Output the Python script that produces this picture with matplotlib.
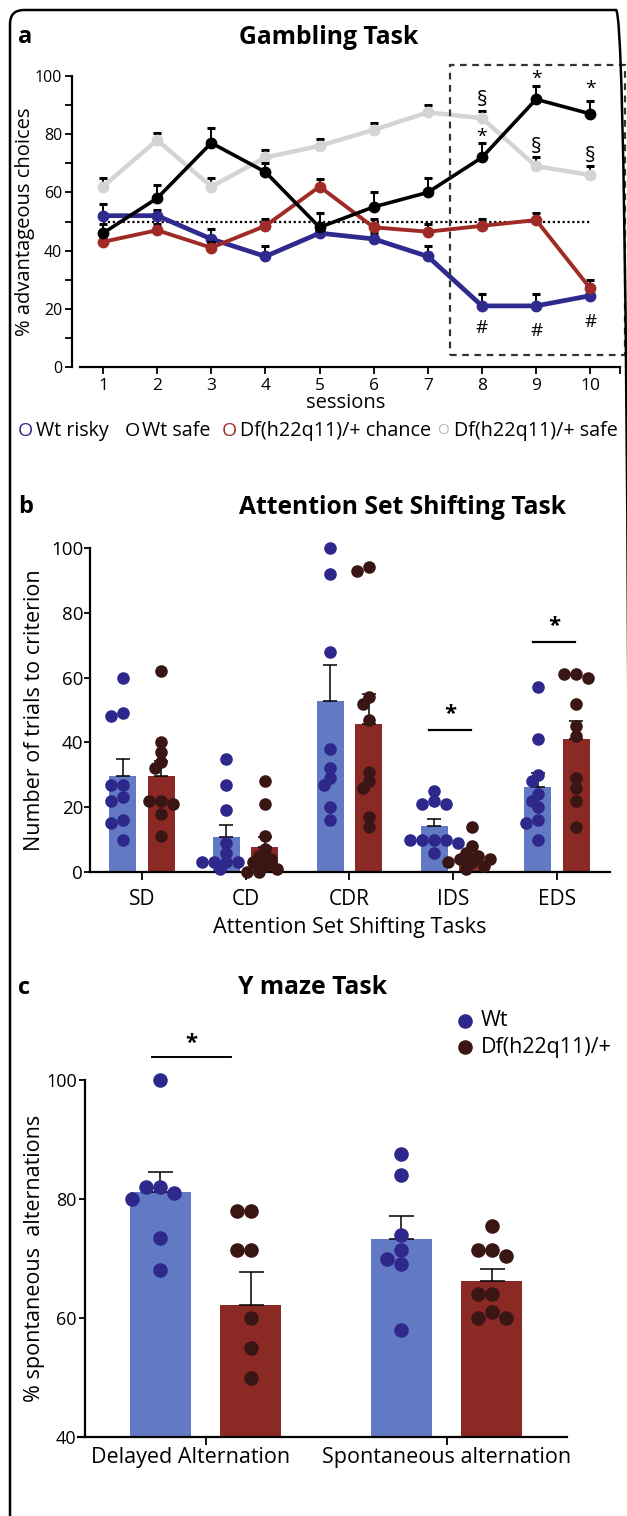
import numpy as np
import matplotlib
matplotlib.use("Agg")
import matplotlib.pyplot as plt
import matplotlib.transforms as mtrans
from matplotlib.patches import FancyBboxPatch, Rectangle

plt.rcParams['font.family'] = ['Open Sans', 'DejaVu Sans']

# ---------------- data ----------------
sessions = [1, 2, 3, 4, 5, 6, 7, 8, 9, 10]
wt_risky = [52, 52, 44, 38, 46, 44, 38, 21, 21, 24.5]
wt_risky_err = [4, 2, 3.5, 3.5, 2, 2, 3.5, 4, 4, 2]
wt_safe = [46, 58, 77, 67, 48, 55, 60, 72, 92, 87]
wt_safe_err = [3, 4.5, 5, 3, 5, 5, 5, 5, 4.5, 4.5]
df_chance = [43, 47, 41, 48.5, 62, 48, 46.5, 48.5, 50.5, 27]
df_chance_err = [2, 2, 2, 2.5, 2.5, 3, 2.5, 2.5, 2.5, 3]
df_safe = [62, 78, 62, 72, 76, 81.5, 87.5, 85.5, 69, 66]
df_safe_err = [3, 2.5, 3, 2.5, 2.5, 2.5, 2.5, 2.5, 3, 3]

ast_tasks = ['SD', 'CD', 'CDR', 'IDS', 'EDS']
ast_wt_mean = [29.5, 10.7, 52.8, 14.3, 26.1]
ast_wt_err = [5.5, 3.7, 11.1, 2.2, 4.5]
ast_df_mean = [29.6, 7.8, 45.6, 3.2, 41.0]
ast_df_err = [4.7, 3.1, 9.2, 2.4, 5.7]
ast_wt_pts = [
    [60, 49, 48, 27, 27, 23, 22, 16, 15, 10],
    [35, 27, 19, 9, 6, 3, 3, 3, 3, 1],
    [100, 92, 68, 38, 32, 29, 27, 20, 16],
    [25, 22, 21, 21, 10, 10, 10, 10, 9, 6],
    [57, 41, 30, 28, 24, 22, 20, 16, 15, 10],
]
ast_df_pts = [
    [62, 40, 37, 34, 32, 22, 22, 21, 18, 11],
    [28, 21, 11, 7, 5, 4, 3, 2, 1, 0, 0],
    [94, 93, 54, 52, 47, 31, 28, 26, 17, 14],
    [14, 8, 6, 5, 4, 4, 3, 3, 2, 1],
    [61, 61, 60, 52, 45, 42, 29, 26, 22, 14],
]

ym_tasks = ['Delayed Alternation', 'Spontaneous alternation']
ym_wt_mean = [81.2, 73.3]
ym_wt_err = [3.4, 3.8]
ym_df_mean = [62.2, 66.3]
ym_df_err = [5.5, 2.0]
ym_wt_pts = [
    [100, 82, 82, 81, 80, 73.5, 68],
    [87.5, 84, 74, 71.5, 70, 69, 58],
]
ym_df_pts = [
    [78, 78, 71.5, 71.5, 60, 55, 50],
    [75.5, 71.5, 71.5, 70.5, 64, 64, 61, 60, 60],
]

# ---------------- style ----------------
C_BLUE_LINE = '#2F2A8E'
C_RED_LINE = '#A02A26'
C_GREY_LINE = '#D4D4D4'
C_BAR_BLUE = '#6279C4'
C_BAR_RED = '#8B2924'
C_DOT_BLUE = '#2E288C'
C_DOT_RED = '#391614'

W, H = 627, 1516
fig = plt.figure(figsize=(W / 100, H / 100), dpi=100)


def ax_px(left, top, right, bottom):
    return fig.add_axes([left / W, 1 - bottom / H, (right - left) / W, (bottom - top) / H])


def ftext(x, y, s, **kw):
    fig.text(x / W, 1 - y / H, s, **kw)


# frame (open at bottom/right edge, rounded top corners)
frame = FancyBboxPatch((0.10, -1.0), 6.20, 15.06 + 1.0,
                       boxstyle="round,pad=0,rounding_size=0.14",
                       transform=fig.dpi_scale_trans, fill=False,
                       edgecolor='black', linewidth=1.8, clip_on=False)
fig.patches.append(frame)


def style_axes(ax):
    for s in ['top', 'right']:
        ax.spines[s].set_visible(False)
    for s in ['left', 'bottom']:
        ax.spines[s].set_linewidth(1.6)
    ax.tick_params(width=1.3, length=5, direction='out', colors='black')


# ---------------- panel a ----------------
axa = ax_px(72, 76, 620, 367)
style_axes(axa)
axa.set_xlim(0.427, 10.55)
axa.set_ylim(0, 100)
axa.spines['bottom'].set_bounds(0.575, 10.55)
axa.set_xticks(sessions)
axa.set_xticks([10.55], minor=True)
axa.set_yticks(range(0, 101, 20))
axa.set_yticks(range(10, 100, 20), minor=True)
axa.tick_params(axis='both', which='both', width=1.3, length=5)
axa.tick_params(axis='y', labelsize=11.5, pad=2)
axa.tick_params(axis='x', labelsize=12.5, pad=3)
axa.set_xlabel('sessions', fontsize=14.5, labelpad=-1)
axa.set_ylabel('% advantageous choices', fontsize=14.5, labelpad=0)

axa.plot([1, 10], [50, 50], linestyle=(0, (1, 1.2)), color='black', lw=1.6, zorder=1)

series = [
    (df_safe, df_safe_err, C_GREY_LINE, 3.2),
    (wt_risky, wt_risky_err, C_BLUE_LINE, 3.4),
    (df_chance, df_chance_err, C_RED_LINE, 2.8),
    (wt_safe, wt_safe_err, 'black', 2.6),
]
for i, (vals, err, col, lw) in enumerate(series):
    axa.errorbar(sessions, vals, yerr=[[0] * len(err), err], fmt='none',
                 ecolor='black', elinewidth=1.4, capsize=3.2, capthick=2.2,
                 zorder=2 + i)
    axa.plot(sessions, vals, color=col, lw=lw, marker='o', markersize=7.5,
             zorder=2.5 + i)

# dashed box
axa.add_patch(Rectangle((7.41, 4.1), 10.65 - 7.41, 103.8 - 4.1, fill=False,
                        linestyle=(0, (3, 2.5)), linewidth=1.6,
                        edgecolor='#333333', clip_on=False, zorder=10))
for x, y in [(8, 91.5), (9, 75.5), (10, 72.5)]:
    axa.text(x, y, '§', ha='center', va='center', fontsize=15)
for x, y in [(8, 79), (9, 99), (10, 95.5)]:
    axa.text(x, y, '*', ha='center', va='center', fontsize=14)
for x, y in [(8, 13.5), (9, 12.5), (10, 15.5)]:
    axa.text(x, y, '#', ha='center', va='center', fontsize=13.5)

# legend of panel a
leg_items = [(18, 'Wt risky', C_BLUE_LINE, 36, 14),
             (125, 'Wt safe', 'black', 142, 14),
             (222, 'Df(h22q11)/+ chance', C_RED_LINE, 240, 14),
             (437, 'Df(h22q11)/+ safe', '#BBBBBB', 454, 11)]
for mx, label, col, tx, fs in leg_items:
    ftext(mx, 431, 'O', fontsize=fs, color=col, va='center', ha='left')
    ftext(tx, 431, label, fontsize=14.2, va='center', ha='left')

ftext(18, 37, 'a', fontsize=17, fontweight='bold', va='center')
ftext(329, 37, 'Gambling Task', fontsize=17.8, fontweight='bold', va='center', ha='center')


# ---------------- swarm helper ----------------
def swarm_offsets(ax, xc, vals, diam_px, overlap=0.82):
    tr = ax.transData
    inv = tr.inverted()
    placed = []
    xs = []
    for v in vals:
        px0, py = tr.transform((xc, v))
        best = None
        for k in range(0, 40):
            for sgn in ([0] if k == 0 else [-1, 1]):
                cx = px0 + sgn * k * diam_px * 0.5
                ok = all((cx - qx) ** 2 + (py - qy) ** 2 >= (diam_px * overlap) ** 2
                         for qx, qy in placed)
                if ok:
                    best = cx
                    break
            if best is not None:
                break
        placed.append((best, py))
        xs.append(inv.transform((best, py))[0])
    return xs


# ---------------- panel b ----------------
axb = ax_px(90, 548, 610, 872)
style_axes(axb)
axb.set_xlim(-0.5, 4.51)
axb.set_ylim(0, 100)
axb.set_yticks(range(0, 101, 20))
axb.set_xticks(range(len(ast_tasks)))
axb.set_xticklabels(ast_tasks)
axb.tick_params(axis='y', labelsize=13.5, pad=1, length=4)
axb.tick_params(axis='x', labelsize=15, pad=6, length=6)
axb.set_ylabel('Number of trials to criterion', fontsize=15.5, labelpad=4)
axb.set_xlabel('Attention Set Shifting Tasks', fontsize=15.5, labelpad=5)

xb = np.arange(len(ast_tasks))
off_b, wid_b = 0.185, 0.26
axb.bar(xb - off_b, ast_wt_mean, width=wid_b, color=C_BAR_BLUE, zorder=1)
axb.bar(xb + off_b, ast_df_mean, width=wid_b, color=C_BAR_RED, zorder=1)
axb.errorbar(xb - off_b, ast_wt_mean, yerr=[[0] * 5, ast_wt_err], fmt='none',
             ecolor='black', elinewidth=1.1, capsize=5, capthick=1.1, zorder=2)
axb.errorbar(xb + off_b, ast_df_mean, yerr=[[0] * 5, ast_df_err], fmt='none',
             ecolor='black', elinewidth=1.1, capsize=5, capthick=1.1, zorder=2)
for i in range(len(ast_tasks)):
    xs = swarm_offsets(axb, xb[i] - off_b, ast_wt_pts[i], 12, overlap=0.72)
    axb.scatter(xs, ast_wt_pts[i], s=82, color=C_DOT_BLUE, zorder=3,
                linewidths=0, clip_on=False)
    xs = swarm_offsets(axb, xb[i] + off_b, ast_df_pts[i], 12, overlap=0.72)
    axb.scatter(xs, ast_df_pts[i], s=82, color=C_DOT_RED, zorder=3,
                linewidths=0, clip_on=False)

for g, y in [(3, 43.8), (4, 71.0)]:
    axb.plot([g - 0.23, g + 0.17], [y, y], color='black', lw=1.6)
    axb.text(g - 0.03, y + 1.5, '*', ha='center', va='bottom', fontsize=16, fontweight='bold')

ftext(18, 507, 'b', fontsize=17, fontweight='bold', va='center')
ftext(403, 507, 'Attention Set Shifting Task', fontsize=17.7, fontweight='bold',
      va='center', ha='center')

# ---------------- panel c ----------------
axc = ax_px(85, 1080, 567, 1437)
style_axes(axc)
axc.set_xlim(-0.5, 1.5)
axc.set_ylim(40, 100)
axc.spines['bottom'].set_bounds(-0.53, 1.5)
axc.set_yticks(range(40, 101, 20))
axc.set_xticks(range(len(ym_tasks)))
axc.set_xticklabels(ym_tasks)
axc.tick_params(axis='y', labelsize=13, pad=2, length=4)
axc.tick_params(axis='x', labelsize=15.5, pad=1, length=6)
axc.set_ylabel('% spontaneous  alternations', fontsize=15.5, labelpad=1)
first_lbl = axc.get_xticklabels()[0]
first_lbl.set_transform(first_lbl.get_transform() +
                        mtrans.ScaledTranslation(-0.15, 0, fig.dpi_scale_trans))

xc = np.arange(len(ym_tasks))
off_c, wid_c = 0.187, 0.25
axc.bar(xc - off_c, np.array(ym_wt_mean) - 40, bottom=40, width=wid_c, color=C_BAR_BLUE, zorder=1)
axc.bar(xc + off_c, np.array(ym_df_mean) - 40, bottom=40, width=wid_c, color=C_BAR_RED, zorder=1)
axc.errorbar(xc - off_c, ym_wt_mean, yerr=[[0] * 2, ym_wt_err], fmt='none',
             ecolor='black', elinewidth=1.1, capsize=9, capthick=1.1, zorder=2)
axc.errorbar(xc + off_c, ym_df_mean, yerr=[[0] * 2, ym_df_err], fmt='none',
             ecolor='black', elinewidth=1.1, capsize=9, capthick=1.1, zorder=2)
for i in range(len(ym_tasks)):
    xs = swarm_offsets(axc, xc[i] - off_c, ym_wt_pts[i], 14, overlap=1.0)
    axc.scatter(xs, ym_wt_pts[i], s=110, color=C_DOT_BLUE, zorder=3,
                linewidths=0, clip_on=False)
    xs = swarm_offsets(axc, xc[i] + off_c, ym_df_pts[i], 14, overlap=1.0)
    axc.scatter(xs, ym_df_pts[i], s=110, color=C_DOT_RED, zorder=3,
                linewidths=0, clip_on=False)

axc.plot([-0.224, 0.104], [103.8, 103.8], color='black', lw=1.4, clip_on=False)
axc.text(-0.06, 104.3, '*', ha='center', va='bottom', fontsize=16, fontweight='bold')

# legend of panel c
for y, lab, col in [(1021, 'Wt', C_DOT_BLUE), (1047, 'Df(h22q11)/+', C_DOT_RED)]:
    fig.lines.append(plt.Line2D([465 / W], [1 - y / H], marker='o', markersize=10.5,
                                color=col, markeredgewidth=0,
                                transform=fig.transFigure))
    ftext(481, y, lab, fontsize=15.5, va='center', ha='left')

ftext(18, 988, 'c', fontsize=17, fontweight='bold', va='center')
ftext(313, 988, 'Y maze Task', fontsize=17.8, fontweight='bold', va='center', ha='center')

fig.savefig('out.png', dpi=100)
